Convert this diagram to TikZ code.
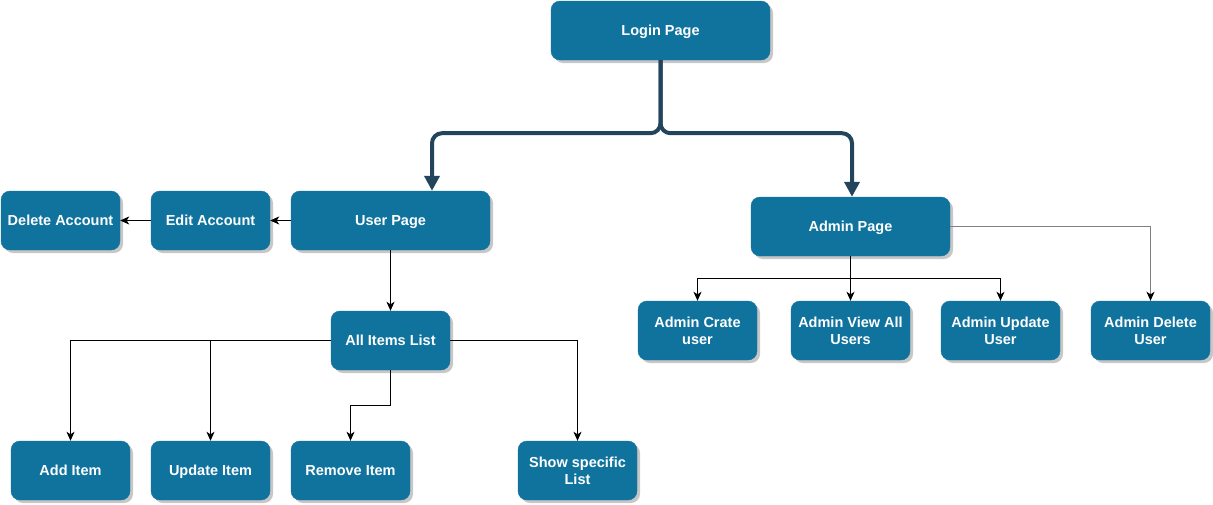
\documentclass[tikz,border=0pt]{standalone}
\usepackage{fontspec}
\setmainfont{Liberation Sans}
\usetikzlibrary{arrows.meta,shadows}
\definecolor{boxblue}{HTML}{10739E}
\definecolor{darkline}{HTML}{23445D}
\tikzset{
  box/.style={rectangle, rounded corners=9pt, fill=boxblue, draw=boxblue,
    text=white, font=\fontsize{14.5}{17}\selectfont\bfseries, align=center,
    minimum height=59pt, inner sep=2pt,
    drop shadow={shadow xshift=3pt, shadow yshift=-3pt, fill=black, opacity=0.22}},
  oneline/.style={text height=10.4pt, text depth=0pt},
  thickarrow/.style={draw=darkline, line width=4pt, rounded corners=10pt,
    -{Triangle[length=15pt,width=15pt]}},
  thinarrow/.style={draw=black, line width=1pt, -{Stealth[length=9pt,width=8pt,inset=2.5pt]}},
  grayarrow/.style={draw=gray, line width=1.3pt,
    arrows={-{Stealth[length=9pt,width=8pt,inset=2.5pt,color=black]}}}
}
\begin{document}
\begin{tikzpicture}[x=1pt,y=-1pt]
\useasboundingbox (0,0) rectangle (1213,504);
% nodes
\node[box, oneline, minimum width=219pt] (login) at (660.5,30.5) {Login Page};
\node[box, oneline, minimum width=199pt] (user) at (390.5,220.5) {User Page};
\node[box, oneline, minimum width=119pt] (edit) at (210.5,220.5) {Edit Account};
\node[box, oneline, minimum width=119pt] (delacc) at (60.5,220.5) {Delete Account};
\node[box, oneline, minimum width=199pt] (admin) at (850.5,226.5) {Admin Page};
\node[box, oneline, minimum width=119pt] (items) at (390.5,340.5) {All Items List};
\node[box, oneline, minimum width=119pt] (add) at (70.5,470.5) {Add Item};
\node[box, oneline, minimum width=119pt] (upd) at (210.5,470.5) {Update Item};
\node[box, oneline, minimum width=119pt] (rem) at (350.5,470.5) {Remove Item};
\node[box, minimum width=119pt] (show) at (577.5,470.5) {Show specific\\List};
\node[box, minimum width=119pt] (acreate) at (697.5,330.5) {Admin Crate\\user};
\node[box, minimum width=119pt] (aview) at (850.5,330.5) {Admin View All\\Users};
\node[box, minimum width=119pt] (aupdate) at (1000.5,330.5) {Admin Update\\User};
\node[box, minimum width=119pt] (adelete) at (1150.5,330.5) {Admin Delete\\User};
% thick connectors
\draw[thickarrow] (login.south) -- ++(0,73) -| ([xshift=41.5pt]user.north);
\draw[thickarrow] (login.south) -- ++(0,73) -| ([xshift=1.5pt]admin.north);
% user page connectors
\draw[thinarrow] (user.west) -- (edit.east);
\draw[thinarrow] (edit.west) -- (delacc.east);
\draw[thinarrow] (user.south) -- (items.north);
% items connectors
\draw[thinarrow] (items.west) -| (add.north);
\draw[thinarrow] (items.west) -| (upd.north);
\draw[thinarrow] (items.east) -| (show.north);
\draw[thinarrow] (items.south) -- ++(0,35) -| (rem.north);
% admin connectors
\draw[thinarrow] (admin.south) -- (aview.north);
\draw[thinarrow] (admin.south) -- ++(0,22) -| (acreate.north);
\draw[thinarrow] (admin.south) -- ++(0,22) -| (aupdate.north);
\draw[grayarrow] (admin.east) -| (adelete.north);
\end{tikzpicture}
\end{document}
